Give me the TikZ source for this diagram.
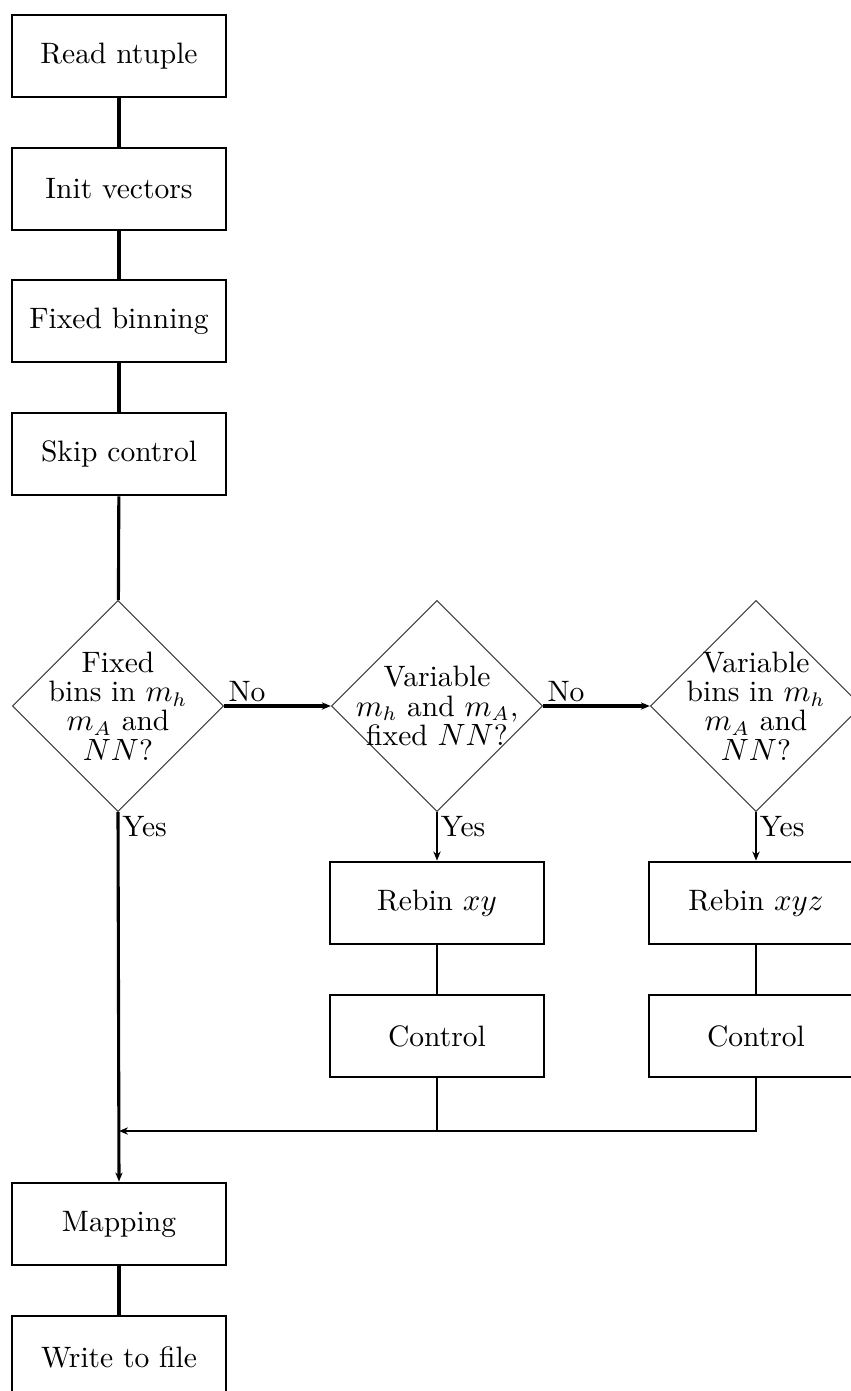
\documentclass[tikz,border=0pt]{standalone}
\usetikzlibrary{shapes.geometric,arrows.meta}
\begin{document}
\begin{tikzpicture}[x=0.0125cm, y=-0.0125cm, >={Stealth[length=3.2pt,width=2.6pt]},
  every node/.style={font=\fontsize{10.5}{10.4}\selectfont},
  box/.style={draw, line width=0.9pt, minimum width=2.675cm, minimum height=1.03cm, inner sep=0pt},
  decision/.style={draw=black!75, line width=0.4pt, diamond, minimum width=2.64cm, minimum height=2.64cm, inner sep=0pt},
  flow/.style={line width=1.1pt},
  subflow/.style={line width=0.8pt},
  thinflow/.style={line width=0.6pt}]

  % --- page frame (reference is cut at right and bottom) ---
  \useasboundingbox (0,0) rectangle (851,1391);
  \clip (0,0) rectangle (851,1391);

  % 1. main column
  \node[box] (read)   at (119,56)  {Read ntuple};
  \node[box] (init)   at (119,189) {Init vectors};
  \node[box] (fixbin) at (119,321) {Fixed binning};
  \node[box] (skip)   at (119,454) {Skip control};

  % 2. decisions
  \node[decision, label={[align=center]center:Fixed\\bins in $m_h$\\$m_A$ and\\$NN$?}] (fixq) at (118,706) {};
  \node[decision, label={[align=center]center:Variable\\$m_h$ and $m_A$,\\fixed $NN$?}] (varq) at (437,706) {};
  \node[decision, label={[align=center]center:Variable\\bins in $m_h$\\$m_A$ and\\$NN$?}] (varbinq) at (756,706) {};

  % 3. rebinning branches
  \node[box] (rebinxy)  at (437,903)  {Rebin $xy$};
  \node[box] (ctrlxy)   at (437,1036) {Control};
  \node[box] (rebinxyz) at (756,903)  {Rebin $xyz$};
  \node[box] (ctrlxyz)  at (756,1036) {Control};

  % 4. output
  \node[box] (mapping) at (119,1224) {Mapping};
  \node[box] (write)   at (119,1357) {Write to file};

  % 5. connectors
  \draw[flow] (read) -- (init);
  \draw[flow] (init) -- (fixbin);
  \draw[flow] (fixbin) -- (skip);
  \draw[flow] (skip) -- (fixq);
  \draw[flow, ->] (fixq.east) -- node[pos=0, above right, inner sep=1pt] {No} (varq.west);
  \draw[flow, ->] (varq.east) -- node[pos=0, above right, inner sep=1pt] {No} (varbinq.west);
  \draw[flow, ->] (fixq.south) -- node[pos=0, below right, inner sep=1pt] {Yes} (mapping.north);
  \draw[subflow, ->] (varq.south) -- node[pos=0, below right, inner sep=1pt] {Yes} (rebinxy.north);
  \draw[subflow, ->] (varbinq.south) -- node[pos=0, below right, inner sep=1pt] {Yes} (rebinxyz.north);
  \draw[thinflow] (rebinxy) -- (ctrlxy);
  \draw[thinflow] (rebinxyz) -- (ctrlxyz);

  % merge back into the main column
  \coordinate (merge) at (437,1131);
  \draw[thinflow] (ctrlxyz.south) |- (merge);
  \draw[thinflow, ->] (ctrlxy.south) -- (merge) -- (merge -| mapping);
  \draw[flow] (mapping) -- (write);

\end{tikzpicture}
\end{document}
